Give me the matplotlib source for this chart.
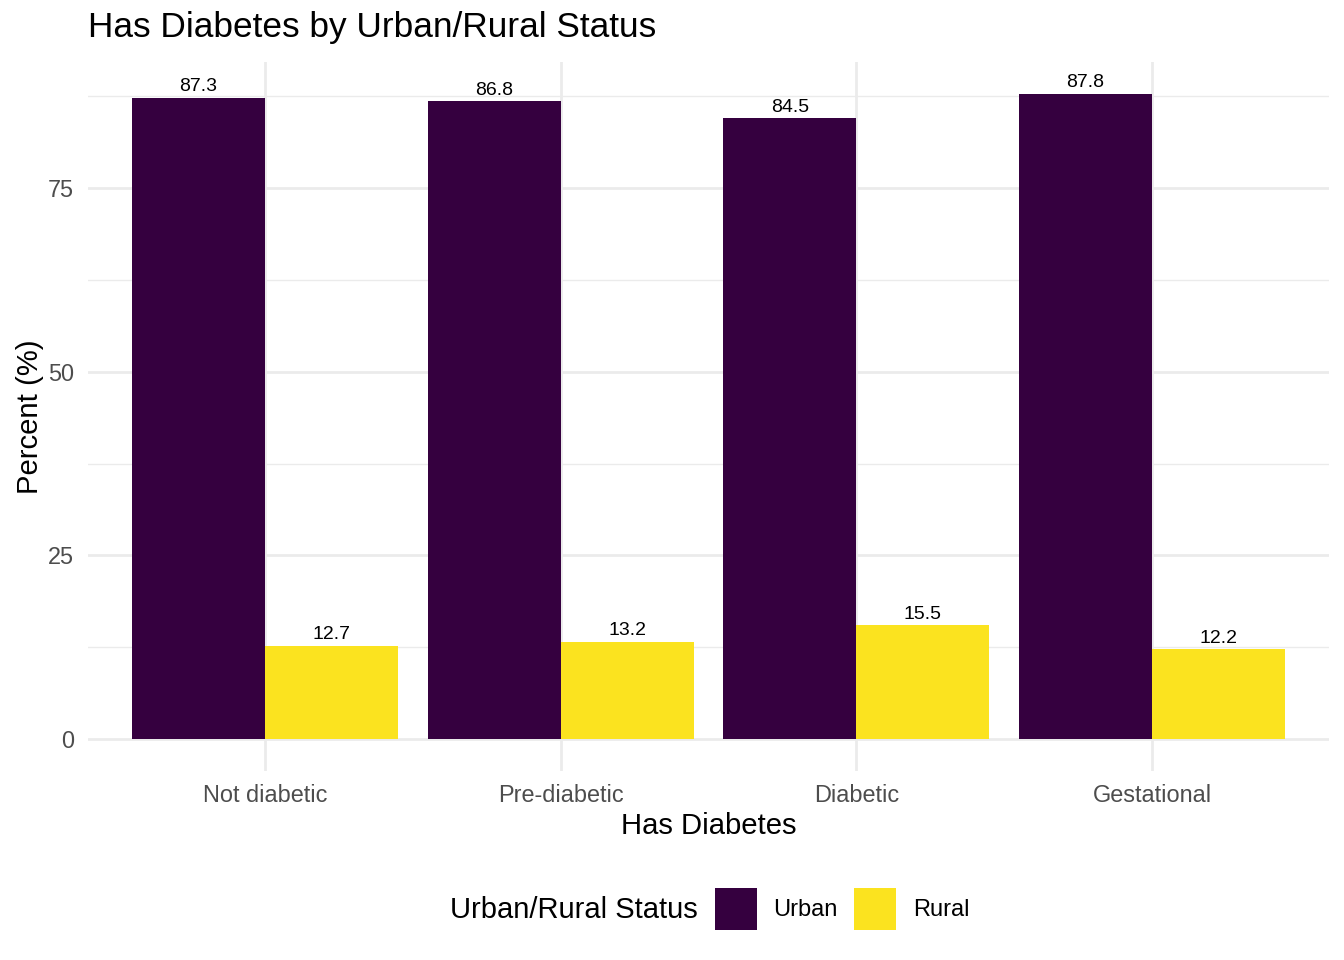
import matplotlib
matplotlib.use("Agg")
import matplotlib.pyplot as plt
from matplotlib.patches import Rectangle
import numpy as np

categories = ["Not diabetic", "Pre-diabetic", "Diabetic", "Gestational"]
urban = [87.3, 86.8, 84.5, 87.8]
rural = [12.7, 13.2, 15.5, 12.2]
series_names = ["Urban", "Rural"]
colors = ["#35003F", "#FBE31F"]

plt.rcParams['font.family'] = ['Liberation Sans', 'DejaVu Sans']

W, H = 1344, 960
fig = plt.figure(figsize=(W/100, H/100), dpi=100)
left, right = 87.6/W, 1329.4/W
bottom, top = 1-771.3/H, 1-61.7/H
ax = fig.add_axes([left, bottom, right-left, top-bottom])

x = np.arange(1, len(categories)+1)
bw = 0.45
ax.bar(x - bw/2, urban, width=bw, color=colors[0], zorder=3)
ax.bar(x + bw/2, rural, width=bw, color=colors[1], zorder=3)
for xi, u, r in zip(x, urban, rural):
    ax.text(xi - bw/2, u + 0.35, f"{u:.1f}", ha="center", va="bottom", fontsize=14, color="black", zorder=4)
    ax.text(xi + bw/2, r + 0.35, f"{r:.1f}", ha="center", va="bottom", fontsize=14, color="black", zorder=4)

ymax = max(max(urban), max(rural))
ax.set_xlim(0.4, 4.6)
ax.set_ylim(-0.05*ymax, 1.05*ymax)
ax.set_xticks(x)
ax.set_xticklabels(categories)
ax.set_yticks([0, 25, 50, 75])
ax.set_yticks([12.5, 37.5, 62.5, 87.5], minor=True)
ax.grid(True, which="major", color="#EBEBEB", linewidth=2.0, zorder=0)
ax.grid(True, which="minor", axis="y", color="#EBEBEB", linewidth=1.0, zorder=0)
ax.set_axisbelow(True)
for s in ax.spines.values():
    s.set_visible(False)
ax.tick_params(which="both", length=0, labelsize=16.9, labelcolor="#4D4D4D", pad=9)
ax.tick_params(axis="y", pad=10)

fig.text(88/W, 1-28/H, "Has Diabetes by Urban/Rural Status", fontsize=25.4, ha="left", va="center")
fig.text(708.5/W, 1-826/H, "Has Diabetes", fontsize=21.1, ha="center", va="center")
fig.text(30/W, 1-416.5/H, "Percent (%)", fontsize=21.1, ha="center", va="center", rotation=90)

# legend (manual, ggplot-style with title at left)
ly = 910.5
fig.text(450/W, 1-ly/H, "Urban/Rural Status", fontsize=21, ha="left", va="center")
key_x = [715, 854]
lab_x = [773, 913]
for kx, lx, c, name in zip(key_x, lab_x, colors, series_names):
    fig.add_artist(Rectangle((kx/W, 1-930/H), 42/W, 42/H, transform=fig.transFigure,
                             facecolor=c, edgecolor="none"))
    fig.text(lx/W, 1-ly/H, name, fontsize=17, ha="left", va="center")

fig.savefig("out.png", dpi=100)
